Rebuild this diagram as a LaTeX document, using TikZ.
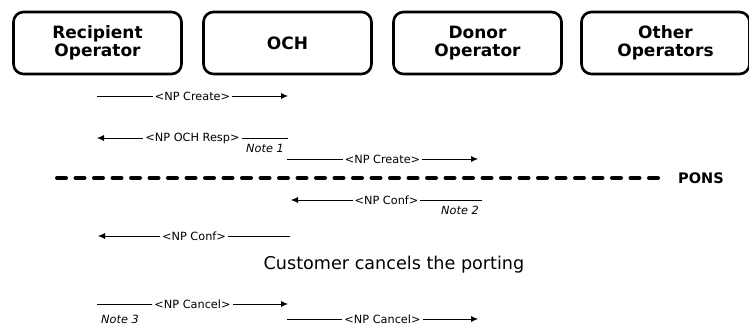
\documentclass[tikz,border=0pt]{standalone}
\usepackage{fontspec}
\setmainfont{DejaVu Sans}
\usetikzlibrary{arrows.meta}
\begin{document}
\begin{tikzpicture}[x=1pt,y=-1pt,
  party/.style={draw,line width=2.6pt,rounded corners=10pt,minimum width=168pt,minimum height=62pt,
    align=center,font=\fontsize{17}{18.5}\selectfont\bfseries,inner sep=0pt},
  msg/.style={line width=0.8pt,-{Latex[length=7pt,width=6pt]}},
  lbl/.style={fill=white,inner sep=2pt,font=\fontsize{11.3}{13}\selectfont},
  note/.style={inner sep=0pt,font=\fontsize{11.3}{13}\selectfont\itshape},
  pons/.style={line width=4pt,line cap=round,dash pattern=on 9pt off 9.5pt}]
\useasboundingbox (0,0) rectangle (749,331);
\node[party] (ro) at (97.5,43) {Recipient\\Operator};
\node[party] (och) at (287.5,43) {OCH};
\node[party] (do) at (477.5,43) {Donor\\Operator};
\node[party] (oo) at (665.5,43) {Other\\Operators};
% row 1
\coordinate (a1) at (97,96); \coordinate (b1) at (288,96);
\draw[msg] (a1) -- node[lbl] {<NP Create>} (b1);
% row 2
\coordinate (a2) at (288,138); \coordinate (b2) at (97,138);
\draw[msg] (a2) -- node[lbl] {<NP OCH Resp>} (b2);
\node[note,anchor=center] (n1) at (265,148) {Note 1};
% row 3
\coordinate (a3) at (287,159); \coordinate (b3) at (478,159);
\draw[msg] (a3) -- node[lbl] {<NP Create>} (b3);
% PONS
\coordinate (p1) at (57,178); \coordinate (p2) at (662,178);
\draw[pons] (p1) -- (p2);
\node[font=\fontsize{14.5}{16}\selectfont\bfseries,anchor=west,inner sep=0pt] (pons) at (678,178) {PONS};
% row 4
\coordinate (a4) at (482,200); \coordinate (b4) at (291,200);
\draw[msg] (a4) -- node[lbl] {<NP Conf>} (b4);
\node[note,anchor=center] (n2) at (460,210) {Note 2};
% row 5
\coordinate (a5) at (290,236); \coordinate (b5) at (98,236);
\draw[msg] (a5) -- node[lbl] {<NP Conf>} (b5);
% customer
\node[font=\fontsize{17.6}{20}\selectfont] (cust) at (394,265) {Customer cancels the porting};
% row 6
\coordinate (a6) at (97,304); \coordinate (b6) at (288,304);
\draw[msg] (a6) -- node[lbl] {<NP Cancel>} (b6);
\node[note,anchor=center] (n3) at (120,319) {Note 3};
% row 7
\coordinate (a7) at (287,319); \coordinate (b7) at (478,319);
\draw[msg] (a7) -- node[lbl] {<NP Cancel>} (b7);
\end{tikzpicture}
\end{document}
